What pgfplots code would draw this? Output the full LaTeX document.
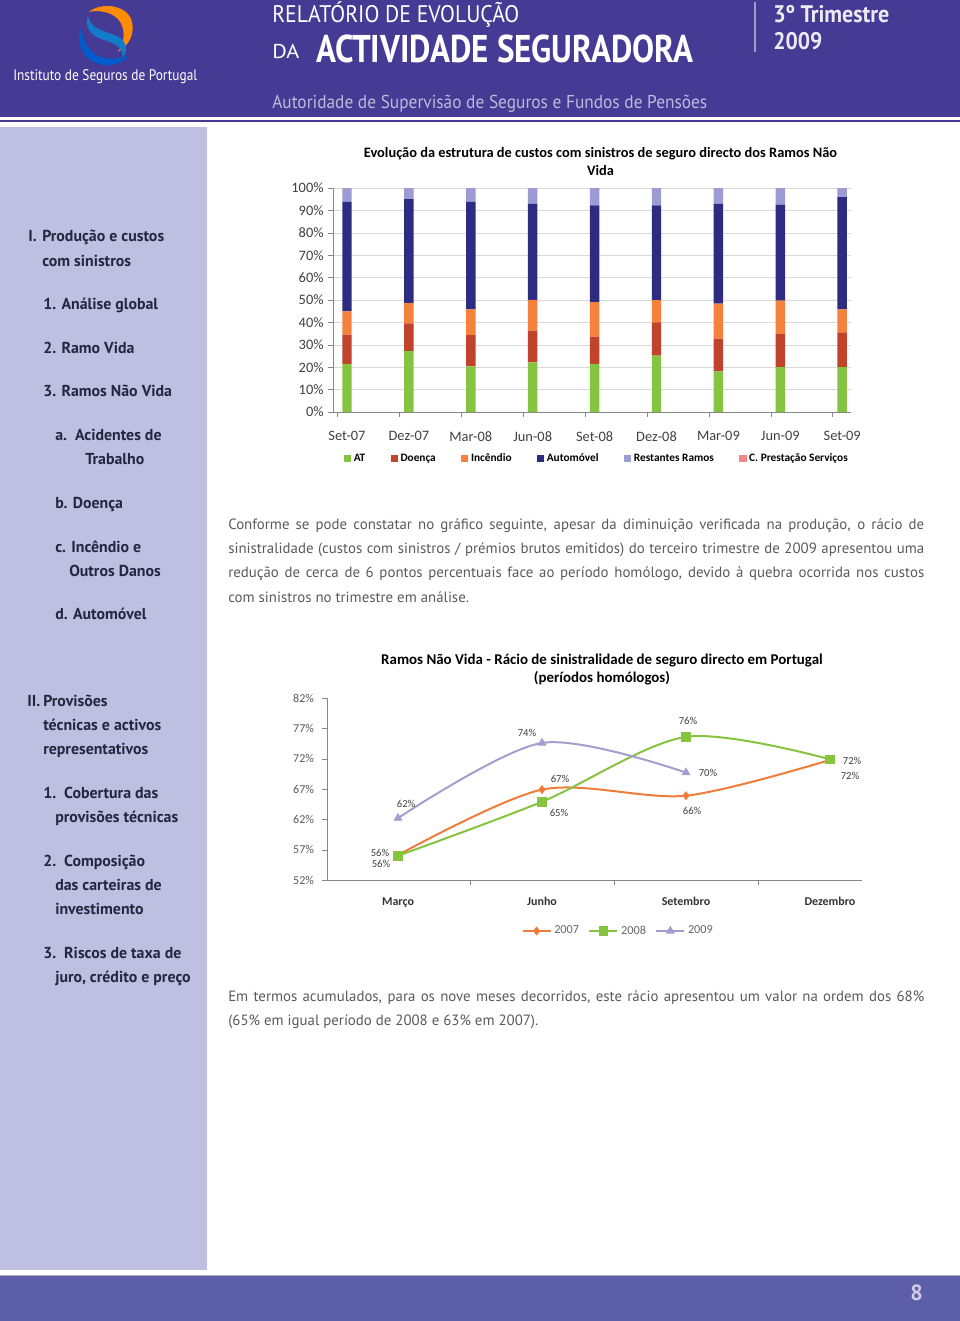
\documentclass[border=0pt]{standalone}
\usepackage{pgfplots}
\pgfplotsset{compat=1.18}
\usepackage{graphicx}
\usepackage{fontspec}
\setmainfont{PT Sans}
\newfontfamily\calfont{Carlito}
\definecolor{hdr}{HTML}{453A94}
\definecolor{sidebg}{HTML}{BFBFE1}
\definecolor{foot}{HTML}{5C5EA9}
\definecolor{sidetxt}{HTML}{262640}
\definecolor{bodytxt}{HTML}{5A5A5C}
\definecolor{cAT}{HTML}{85C441}
\definecolor{cDo}{HTML}{C0432B}
\definecolor{cIn}{HTML}{F4823C}
\definecolor{cAu}{HTML}{2E2C80}
\definecolor{cRe}{HTML}{9D9BD3}
\definecolor{cCP}{HTML}{F1878A}
\definecolor{l07}{HTML}{F07C3A}
\definecolor{l08}{HTML}{86C440}
\definecolor{l09}{HTML}{A09FD0}
\definecolor{axgray}{HTML}{868686}
\newcommand\fitw[2]{\resizebox{#1}{\height}{#2}}
\begin{document}
\begin{tikzpicture}
\begin{scope}[x=0.75pt,y=-0.75pt,
  sidetext/.style={anchor=base west,inner sep=0pt,text=sidetxt,font=\fontsize{11.9}{13}\selectfont\bfseries},
  body/.style={anchor=base west,inner sep=0pt,text=bodytxt,font=\fontsize{11.15}{13}\selectfont}]
\useasboundingbox (0,0) rectangle (960,1321);
% bands
\fill[hdr] (0,0) rectangle (960,117);
\fill[hdr] (0,119.5) rectangle (960,122);
\fill[sidebg] (0,127) rectangle (207,1270);
\fill[foot] (0,1275) rectangle (960,1321);
\draw[gray!60] (0,1275)--(960,1275);
% logo
\fill[orange!90!yellow] (89,12) .. controls (100,2) and (128,4) .. (132,22) .. controls (135,35) and (128,46) .. (118,52) .. controls (125,42) and (126,28) .. (118,19) .. controls (110,11) and (97,10) .. (89,12) -- cycle;
\fill[blue!55!cyan!80!black] (80,28) .. controls (76,45) and (84,62) .. (103,65) .. controls (115,66) and (124,62) .. (128,56) .. controls (118,60) and (100,60) .. (92,52) .. controls (85,45) and (83,36) .. (80,28) -- cycle;
\fill[cyan!60!blue] (88,16) .. controls (84,26) and (90,36) .. (104,40) .. controls (118,44) and (124,50) .. (122,58) .. controls (130,50) and (126,38) .. (112,34) .. controls (98,30) and (90,26) .. (88,16) -- cycle;
% header text
\node[anchor=base west,inner sep=0pt,text=white] at (272,22) {\fitw{185.25pt}{\fontsize{18}{18}\selectfont RELATÓRIO DE EVOLUÇÃO}};
\node[anchor=base west,inner sep=0pt,text=white] at (272,58) {\fitw{20.25pt}{\fontsize{15}{15}\selectfont DA}};
\node[anchor=base west,inner sep=0pt,text=white] at (316,62) {\fitw{282.75pt}{\fontsize{29}{29}\selectfont\bfseries ACTIVIDADE SEGURADORA}};
\draw[color=hdr!50!white,line width=0.8pt] (755,2)--(755,52);
\node[anchor=base west,inner sep=0pt,text=white!90!hdr] at (773,22) {\fitw{87pt}{\fontsize{18}{18}\selectfont\bfseries 3º Trimestre}};
\node[anchor=base west,inner sep=0pt,text=white!90!hdr] at (773,49) {\fitw{36.75pt}{\fontsize{18}{18}\selectfont\bfseries 2009}};
\node[anchor=base west,inner sep=0pt,text=white] at (13,80) {\fitw{138pt}{\fontsize{11.5}{12}\selectfont Instituto de Seguros de Portugal}};
\node[anchor=base west,inner sep=0pt,text=hdr!35!white] at (272,108) {\fitw{326.25pt}{\fontsize{14}{14}\selectfont Autoridade de Supervisão de Seguros e Fundos de Pensões}};
\node[anchor=base west,inner sep=0pt,text=hdr!25!white] at (910,1300) {\fontsize{16.5}{17}\selectfont\bfseries 8};
% sidebar
\node[sidetext] at (28,241) {I.};
\node[sidetext] at (42,241) {Produção e custos};
\node[sidetext] at (42,266) {com sinistros};
\node[sidetext] at (43,309) {1. Análise global};
\node[sidetext] at (43,353) {2. Ramo Vida};
\node[sidetext] at (43,396) {3. Ramos Não Vida};
\node[sidetext] at (55,440) {a.\ \ Acidentes de};
\node[sidetext] at (85,464) {Trabalho};
\node[sidetext] at (55,508) {b. Doença};
\node[sidetext] at (55,552) {c. Incêndio e};
\node[sidetext] at (69,576) {Outros Danos};
\node[sidetext] at (55,619) {d. Automóvel};
\node[sidetext] at (27,706) {II.};
\node[sidetext] at (43,706) {Provisões};
\node[sidetext] at (43,730) {técnicas e activos};
\node[sidetext] at (43,754) {representativos};
\node[sidetext] at (43,798) {1.\ \ Cobertura das};
\node[sidetext] at (55,822) {provisões técnicas};
\node[sidetext] at (43,866) {2.\ \ Composição};
\node[sidetext] at (55,890) {das carteiras de};
\node[sidetext] at (55,914) {investimento};
\node[sidetext] at (43,958) {3.\ \ Riscos de taxa de};
\node[sidetext] at (55,982) {juro, crédito e preço};
% body text
\node[body] at (228,529) {\makebox[522pt][s]{Conforme se pode constatar no gráfico seguinte, apesar da diminuição verificada na produção, o rácio de}};
\node[body] at (228,553) {\makebox[522pt][s]{sinistralidade (custos com sinistros / prémios brutos emitidos) do terceiro trimestre de 2009 apresentou uma}};
\node[body] at (228,577) {\makebox[522pt][s]{redução de cerca de 6 pontos percentuais face ao período homólogo, devido à quebra ocorrida nos custos}};
\node[body] at (228,602) {com sinistros no trimestre em análise.};
\node[body] at (228,1001) {\makebox[522pt][s]{Em termos acumulados, para os nove meses decorridos, este rácio apresentou um valor na ordem dos 68\%}};
\node[body] at (228,1025) {(65\% em igual período de 2008 e 63\% em 2007).};
% chart titles
\node[anchor=base,inner sep=0pt,font=\calfont\bfseries\fontsize{10.8}{12}\selectfont] at (600.5,157) {Evolução da estrutura de custos com sinistros de seguro directo dos Ramos Não};
\node[anchor=base,inner sep=0pt,font=\calfont\bfseries\fontsize{10.8}{12}\selectfont] at (600.5,175) {Vida};
\node[anchor=base,inner sep=0pt,font=\calfont\bfseries\fontsize{11.2}{12}\selectfont] at (602,664) {Ramos Não Vida - Rácio de sinistralidade de seguro directo em Portugal};
\node[anchor=base,inner sep=0pt,font=\calfont\bfseries\fontsize{11.2}{12}\selectfont] at (602,682) {(períodos homólogos)};
\end{scope}

% ---------- bar chart
\begin{axis}[at={(249.75pt,-309pt)}, anchor=south west, scale only axis,
  width=388.5pt, height=168pt,
  xmin=-0.226, xmax=8.142, ymin=0, ymax=100,
  ybar stacked, bar width=7.1pt,
  axis x line*=bottom, axis y line*=left,
  axis line style={axgray,-},
  tick align=outside, major tick length=3.5pt,
  tick style={axgray},
  xtick={-0.155,0.845,1.845,2.845,3.845,4.845,5.845,6.845,7.845}, xticklabels={},
  extra x ticks={0,1,2,3,4,5,6,7,8},
  extra x tick labels={Set-07,Dez-07,Mar-08,Jun-08,Set-08,Dez-08,Mar-09,Jun-09,Set-09},
  extra x tick style={major tick length=0pt, grid=none, xticklabel style={yshift=-11pt}},
  ytick={0,10,...,100},
  yticklabel={\pgfmathprintnumber{\tick}\%},
  /pgf/number format/assume math mode=true,
  ymajorgrids, grid style={gray!30},
  tick label style={font=\calfont\fontsize{10.8}{12}\selectfont, text=black!75},
  legend style={at={(0.51,-0.207)}, anchor=center, draw=none, fill=none,
    legend columns=6, font=\calfont\bfseries\fontsize{8.5}{10}\selectfont,
    /tikz/every even column/.append style={column sep=17pt}},
  legend image code/.code={\fill[#1] (0pt,-2.6pt) rectangle (5.4pt,2.6pt);},
]
\addplot[fill=cAT,draw=none] coordinates {(0,21.5) (1,27.2) (2,20.4) (3,22.2) (4,21.5) (5,25.2) (6,18.1) (7,20.0) (8,20.0)};
\addplot[fill=cDo,draw=none] coordinates {(0,13.1) (1,12.4) (2,13.9) (3,14.1) (4,12.2) (5,14.8) (6,14.7) (7,14.8) (8,15.5)};
\addplot[fill=cIn,draw=none] coordinates {(0,10.3) (1,9.1) (2,11.5) (3,13.8) (4,15.4) (5,9.9) (6,15.6) (7,14.9) (8,10.3)};
\addplot[fill=cAu,draw=none] coordinates {(0,48.9) (1,46.3) (2,48.0) (3,42.8) (4,43.2) (5,42.4) (6,44.5) (7,42.9) (8,50.1)};
\addplot[fill=cRe,draw=none] coordinates {(0,6.2) (1,5.0) (2,6.2) (3,7.1) (4,7.7) (5,7.7) (6,7.1) (7,7.4) (8,4.1)};
\addplot[fill=cCP,draw=none] coordinates {(0,0) (1,0) (2,0) (3,0) (4,0) (5,0) (6,0) (7,0) (8,0)};
\legend{AT,Doença,Incêndio,Automóvel,Restantes Ramos,C. Prestação Serviços}
\end{axis}

% ---------- line chart
\begin{axis}[at={(245.25pt,-660pt)}, anchor=south west, scale only axis,
  width=401.25pt, height=136.5pt,
  xmin=-0.493, xmax=3.222, ymin=52, ymax=82,
  axis x line*=bottom, axis y line*=left,
  axis line style={axgray,-},
  tick align=outside, major tick length=3.75pt,
  tick style={axgray},
  xtick={0.5,1.5,2.5}, xticklabels={},
  extra x ticks={0,1,2,3},
  extra x tick labels={Março,Junho,Setembro,Dezembro},
  extra x tick style={major tick length=0pt, grid=none, xticklabel style={yshift=-9.5pt, font=\calfont\bfseries\fontsize{9}{11}\selectfont, text=black!80}},
  ytick={52,57,62,67,72,77,82},
  yticklabel={\pgfmathprintnumber{\tick}\%},
  /pgf/number format/assume math mode=true,
  yticklabel style={xshift=-2.5pt},
  tick label style={font=\calfont\fontsize{9}{11}\selectfont, text=black!65},
  legend style={at={(0.545,-0.28)}, anchor=center, draw=none, fill=none,
    legend columns=3, font=\calfont\fontsize{9.2}{11}\selectfont, text=black!60,
    /tikz/every even column/.append style={column sep=5pt}},
  legend image code/.code={\draw[mark repeat=2,mark phase=2,#1] plot coordinates {(0pt,0pt) (10.5pt,0pt) (21pt,0pt)};},
  every axis plot/.append style={line width=1.5pt, smooth},
]
\addplot[color=l07, mark=diamond*, mark size=3pt, mark options={solid,line width=0.5pt}] coordinates {(0,56.1) (1,66.9) (2,65.9) (3,71.8)};
\addplot[color=l08, mark=square*, mark size=3.2pt, mark options={solid,line width=0.5pt}] coordinates {(0,56.0) (1,64.9) (2,75.6) (3,71.9)};
\addplot[color=l09, mark=triangle*, mark size=3.4pt, mark options={solid,line width=0.5pt}] coordinates {(0,62.2) (1,74.6) (2,69.7)};
\legend{2007,2008,2009}
\begin{scope}[every node/.style={font=\calfont\fontsize{8}{9}\selectfont, text=black!75, inner sep=0pt}]
\node at (axis cs:-0.125,56.45) {56\%};
\node at (axis cs:-0.118,54.64) {56\%};
\node at (axis cs:0.056,64.53) {62\%};
\node at (axis cs:0.896,76.23) {74\%};
\node at (axis cs:1.125,68.65) {67\%};
\node at (axis cs:1.118,63.05) {65\%};
\node at (axis cs:2.014,78.21) {76\%};
\node at (axis cs:2.153,69.64) {70\%};
\node at (axis cs:2.042,63.38) {66\%};
\node at (axis cs:3.153,71.62) {72\%};
\node at (axis cs:3.139,69.15) {72\%};
\end{scope}
\end{axis}
\end{tikzpicture}
\end{document}
